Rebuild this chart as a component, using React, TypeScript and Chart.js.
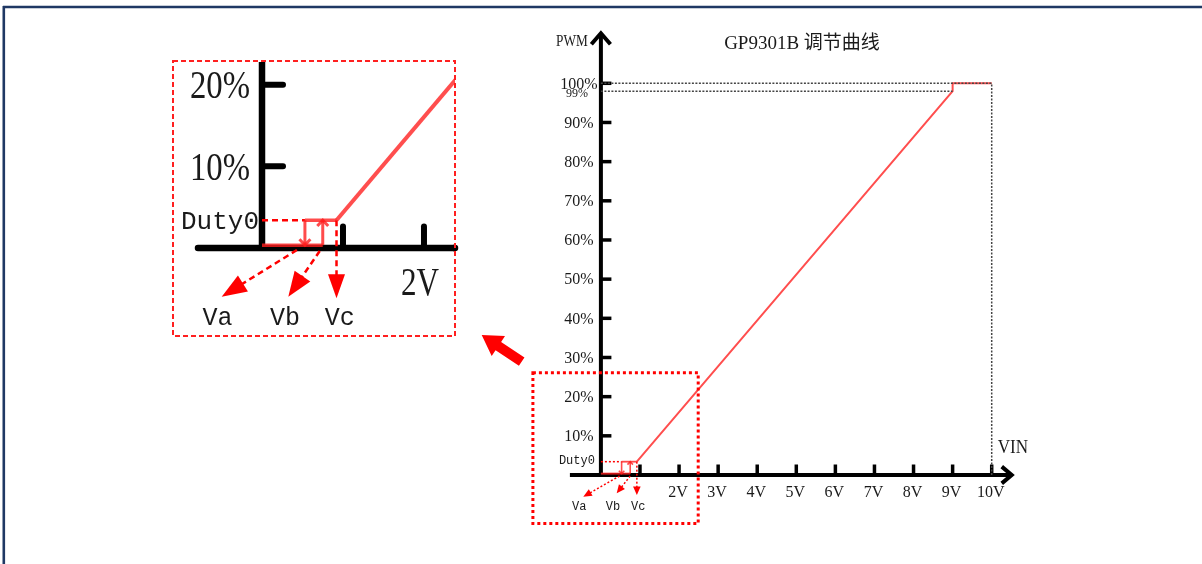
import React, { useEffect, useRef } from 'react';
import { Chart, registerables } from 'chart.js';

Chart.register(...registerables);

// ---------------- data ----------------
const curveVoltage = [0.92, 9.0, 9.0, 10.0];
const curvePWM = [3.4, 98, 100, 100];
const VA = 0.53;
const VB = 0.75;
const VC = 0.92;
const DUTY0 = 3.4;
const OFF_PWM = 0.35;
const offVoltage = [0, VB];
const offPWM = [OFF_PWM, OFF_PWM];
const onVoltage = [VA, VC];
const onPWM = [DUTY0, DUTY0];
const duty0GuideVoltage = [0, VA];
const duty0GuidePWM = [DUTY0, DUTY0];
const fullGuideVoltage = [0, 10, 10];
const fullGuidePWM = [100, 100, 0];
const maxGuideVoltage = [0, 9];
const maxGuidePWM = [98, 98];

const mainYTicks = [10, 20, 30, 40, 50, 60, 70, 80, 90, 100];
const mainYTickLabels = ['10%', '20%', '30%', '40%', '50%', '60%', '70%', '80%', '90%', '100%'];
const mainXTicks = [1, 2, 3, 4, 5, 6, 7, 8, 9, 10];
const mainXTickLabels = ['', '2V', '3V', '4V', '5V', '6V', '7V', '8V', '9V', '10V'];
const insetYTicks = [10, 20];
const insetYTickLabels = ['10%', '20%'];
const insetXTicks = [1, 2];
const insetXTickLabels = ['', '2V'];
const markerNames = ['Va', 'Vb', 'Vc'];
const duty0Label = 'Duty0';
const maxLabel = '99%';
const titleText = 'GP9301B 调节曲线';
const yAxisName = 'PWM';
const xAxisName = 'VIN';
// zoomed region of the main chart (voltage range, PWM range)
const zoomVoltage = [-1.74, 2.49];
const zoomPWM = [-12.4, 26.1];

// ---------------- helpers ----------------
type Pt = { x: number; y: number };
const zip = (xs: number[], ys: number[]): Pt[] => xs.map((x, i) => ({ x, y: ys[i] }));

const SERIF = '"Liberation Serif", "Noto Sans CJK SC", serif';
const MONO = '"Liberation Mono", monospace';
const CURVE_RED = 'rgb(255,78,78)';
const BOX_RED = 'rgba(255,30,30,0.8)';
const RED = '#ff0000';

function txt(ctx: CanvasRenderingContext2D, s: string, x: number, y: number, font: string,
  align: CanvasTextAlign = 'center', sx = 1, color = '#1a1a1a') {
  ctx.save();
  ctx.font = font;
  ctx.fillStyle = color;
  ctx.textAlign = align;
  ctx.textBaseline = 'middle';
  ctx.translate(x, y);
  ctx.scale(sx, 1);
  ctx.fillText(s, 0, 0);
  ctx.restore();
}

function head(ctx: CanvasRenderingContext2D, tx: number, ty: number, fx: number, fy: number,
  len: number, hw: number, color: string) {
  const a = Math.atan2(ty - fy, tx - fx);
  const bx = tx - len * Math.cos(a);
  const by = ty - len * Math.sin(a);
  const nx = -Math.sin(a);
  const ny = Math.cos(a);
  ctx.save();
  ctx.beginPath();
  ctx.moveTo(tx, ty);
  ctx.lineTo(bx + nx * hw, by + ny * hw);
  ctx.lineTo(bx - nx * hw, by - ny * hw);
  ctx.closePath();
  ctx.fillStyle = color;
  ctx.fill();
  ctx.restore();
}

function dashedArrow(ctx: CanvasRenderingContext2D, x0: number, y0: number, x1: number, y1: number,
  lw: number, dash: number[], len: number, hw: number, color: string) {
  const a = Math.atan2(y1 - y0, x1 - x0);
  const ex = x1 - len * 0.85 * Math.cos(a);
  const ey = y1 - len * 0.85 * Math.sin(a);
  ctx.save();
  ctx.strokeStyle = color;
  ctx.lineWidth = lw;
  ctx.setLineDash(dash);
  ctx.beginPath();
  ctx.moveTo(x0, y0);
  ctx.lineTo(ex, ey);
  ctx.stroke();
  ctx.restore();
  head(ctx, x1, y1, x0, y0, len, hw, color);
}

function chevron(ctx: CanvasRenderingContext2D, tx: number, ty: number, angle: number,
  arm: number, spread: number, lw: number, color: string) {
  const a1 = angle + Math.PI - spread;
  const a2 = angle + Math.PI + spread;
  ctx.save();
  ctx.strokeStyle = color;
  ctx.lineWidth = lw;
  ctx.lineJoin = 'miter';
  ctx.beginPath();
  ctx.moveTo(tx + arm * Math.cos(a1), ty + arm * Math.sin(a1));
  ctx.lineTo(tx, ty);
  ctx.lineTo(tx + arm * Math.cos(a2), ty + arm * Math.sin(a2));
  ctx.stroke();
  ctx.restore();
}

function line(ctx: CanvasRenderingContext2D, x0: number, y0: number, x1: number, y1: number,
  lw: number, color: string, cap: CanvasLineCap = 'butt', dash: number[] = []) {
  ctx.save();
  ctx.strokeStyle = color;
  ctx.lineWidth = lw;
  ctx.lineCap = cap;
  ctx.setLineDash(dash);
  ctx.beginPath();
  ctx.moveTo(x0, y0);
  ctx.lineTo(x1, y1);
  ctx.stroke();
  ctx.restore();
}

function verticalArrow(ctx: CanvasRenderingContext2D, x: number, yFrom: number, yTo: number,
  lw: number, arm: number, color: string) {
  line(ctx, x, yFrom, x, yTo, lw, color);
  chevron(ctx, x, yTo, yTo > yFrom ? Math.PI / 2 : -Math.PI / 2, arm, 0.75, lw, color);
}

// ---------------- plugins ----------------
const mainPlugin = {
  id: 'mainDecor',
  beforeDatasetsDraw(chart: any) {
    const ctx: CanvasRenderingContext2D = chart.ctx;
    const xs = chart.scales.x;
    const ys = chart.scales.y;
    const x0 = xs.getPixelForValue(0);
    const y0 = ys.getPixelForValue(0);
    // page border
    line(ctx, 3, 7, 1202, 7, 2.6, '#1f3864');
    line(ctx, 3.8, 6, 3.8, 564, 2.6, '#1f3864');
    // axes
    const xTip = xs.getPixelForValue(10) + 20;
    const yTip = ys.getPixelForValue(100) - 50;
    line(ctx, x0 - 31, y0, xTip - 2, y0, 4, '#000');
    line(ctx, x0, y0 + 2, x0, yTip + 2, 4, '#000');
    chevron(ctx, xTip, y0, 0, 13, 0.7, 4, '#000');
    chevron(ctx, x0, yTip, -Math.PI / 2, 14.5, 0.72, 4, '#000');
    // ticks + labels
    mainYTicks.forEach((v, i) => {
      const py = ys.getPixelForValue(v);
      line(ctx, x0, py, x0 + 10.5, py, 3.5, '#000');
      txt(ctx, mainYTickLabels[i], x0 - 22, py + 1, `16px ${SERIF}`);
    });
    mainXTicks.forEach((v, i) => {
      const px = xs.getPixelForValue(v);
      line(ctx, px, y0, px, y0 - 10.5, 3.5, '#000');
      if (mainXTickLabels[i]) txt(ctx, mainXTickLabels[i], px - 1, y0 + 18, `16px ${SERIF}`);
    });
    txt(ctx, maxLabel, x0 - 24, ys.getPixelForValue(maxGuidePWM[0]) + 2.6, `12px ${SERIF}`);
    txt(ctx, duty0Label, x0 - 24, ys.getPixelForValue(DUTY0) - 0.5, `12px ${MONO}`);
    // names
    txt(ctx, titleText, 802, 44, `19px ${SERIF}`);
    txt(ctx, yAxisName, x0 - 29, yTip + 8, `17px ${SERIF}`, 'center', 0.78);
    txt(ctx, xAxisName, xs.getPixelForValue(10) + 6, y0 - 26.5, `18px ${SERIF}`, 'left', 0.95);
  },
  afterDatasetsDraw(chart: any) {
    const ctx: CanvasRenderingContext2D = chart.ctx;
    const xs = chart.scales.x;
    const ys = chart.scales.y;
    const x0 = xs.getPixelForValue(0);
    const y0 = ys.getPixelForValue(0);
    const pa = xs.getPixelForValue(VA);
    const pb = xs.getPixelForValue(VB);
    const pc = xs.getPixelForValue(VC);
    const pd = ys.getPixelForValue(DUTY0);
    const po = ys.getPixelForValue(OFF_PWM);
    verticalArrow(ctx, pa, pd, po, 1.6, 4, BOX_RED);
    verticalArrow(ctx, pb, po, pd, 1.6, 4, BOX_RED);
    // callout arrows
    dashedArrow(ctx, pa - 2, y0 + 1, x0 - 17.6, y0 + 21.7, 1.5, [2, 2], 8.5, 3.8, RED);
    dashedArrow(ctx, pb, y0 + 1, x0 + 15.8, y0 + 18.3, 1.5, [2, 2], 8.5, 3.8, RED);
    dashedArrow(ctx, pc, pd, pc, y0 + 20, 1.5, [2, 2], 8.5, 3.8, RED);
    const lblX = [x0 - 21.7, x0 + 12.1, x0 + 37.4];
    markerNames.forEach((n, i) => txt(ctx, n, lblX[i], y0 + 32, `12px ${MONO}`));
    // zoom frame
    const fx0 = xs.getPixelForValue(zoomVoltage[0]);
    const fx1 = xs.getPixelForValue(zoomVoltage[1]);
    const fy0 = ys.getPixelForValue(zoomPWM[1]);
    const fy1 = ys.getPixelForValue(zoomPWM[0]);
    ctx.save();
    ctx.strokeStyle = RED;
    ctx.lineWidth = 3;
    ctx.setLineDash([3, 3]);
    ctx.strokeRect(fx0, fy0, fx1 - fx0, fy1 - fy0);
    ctx.restore();
    // big arrow pointing to the inset
    const tip = { x: 481.7, y: 335 };
    const tail = { x: 521.7, y: 361.7 };
    const a = Math.atan2(tip.y - tail.y, tip.x - tail.x);
    const ux = Math.cos(a), uy = Math.sin(a);
    const nx = -uy, ny = ux;
    const hl = 20, hw = 12, sw = 5;
    const bx = tip.x - ux * hl, by = tip.y - uy * hl;
    ctx.save();
    ctx.fillStyle = RED;
    ctx.beginPath();
    ctx.moveTo(tip.x, tip.y);
    ctx.lineTo(bx + nx * hw, by + ny * hw);
    ctx.lineTo(bx + nx * sw, by + ny * sw);
    ctx.lineTo(tail.x + nx * sw, tail.y + ny * sw);
    ctx.lineTo(tail.x - nx * sw, tail.y - ny * sw);
    ctx.lineTo(bx - nx * sw, by - ny * sw);
    ctx.lineTo(bx - nx * hw, by - ny * hw);
    ctx.closePath();
    ctx.fill();
    ctx.restore();
  },
};

const insetPlugin = {
  id: 'insetDecor',
  beforeDatasetsDraw(chart: any) {
    const ctx: CanvasRenderingContext2D = chart.ctx;
    const xs = chart.scales.x;
    const ys = chart.scales.y;
    const x0 = xs.getPixelForValue(0);
    const y0 = ys.getPixelForValue(0);
    const area = chart.chartArea;
    line(ctx, x0, area.top, x0, y0, 6.5, '#000');
    line(ctx, x0 - 64, y0, area.right, y0, 6.5, '#000', 'round');
    line(ctx, area.right - 2, y0, area.right, y0, 6.5, '#000');
    insetYTicks.forEach((v, i) => {
      const py = ys.getPixelForValue(v);
      line(ctx, x0, py, x0 + 21, py, 6, '#000', 'round');
      txt(ctx, insetYTickLabels[i], x0 - 12, py + 2.5, `41px ${SERIF}`, 'right', 0.8);
    });
    insetXTicks.forEach((v, i) => {
      const px = xs.getPixelForValue(v);
      line(ctx, px, y0, px, y0 - 21.5, 6, '#000', 'round');
      if (insetXTickLabels[i]) txt(ctx, insetXTickLabels[i], px - 4, y0 + 36, `41px ${SERIF}`, 'center', 0.76);
    });
    txt(ctx, duty0Label, x0 - 3, ys.getPixelForValue(DUTY0) + 1.5, `26px ${MONO}`, 'right');
  },
  afterDatasetsDraw(chart: any) {
    const ctx: CanvasRenderingContext2D = chart.ctx;
    const xs = chart.scales.x;
    const ys = chart.scales.y;
    const x0 = xs.getPixelForValue(0);
    const y0 = ys.getPixelForValue(0);
    const area = chart.chartArea;
    const pa = xs.getPixelForValue(VA);
    const pb = xs.getPixelForValue(VB);
    const pc = xs.getPixelForValue(VC);
    const pd = ys.getPixelForValue(DUTY0);
    const po = ys.getPixelForValue(OFF_PWM);
    verticalArrow(ctx, pa, pd, po, 3, 8, BOX_RED);
    verticalArrow(ctx, pb, po, pd, 3, 8, BOX_RED);
    dashedArrow(ctx, pa - 8, y0 + 2, x0 - 40.3, y0 + 48.7, 2.5, [6, 4], 25, 9.5, RED);
    dashedArrow(ctx, pb - 3, y0 + 3, x0 + 26.3, y0 + 48.7, 2.5, [6, 4], 25, 9.5, RED);
    dashedArrow(ctx, pc, pd, pc, y0 + 50.3, 2.5, [6, 4], 24, 8.5, RED);
    const lblX = [x0 - 44.5, x0 + 23, x0 + 77.7];
    markerNames.forEach((n, i) => txt(ctx, n, lblX[i], y0 + 70.3, `25px ${MONO}`));
    ctx.save();
    ctx.strokeStyle = '#ff2020';
    ctx.lineWidth = 2;
    ctx.setLineDash([5, 3]);
    ctx.strokeRect(x0 - 89, area.top - 1, area.right - (x0 - 89), y0 + 88 - (area.top - 1));
    ctx.restore();
  },
};

// ---------------- configs ----------------
function mainConfig(): any {
  return {
    type: 'line',
    data: {
      datasets: [
        { data: zip(fullGuideVoltage, fullGuidePWM), borderColor: '#444', borderWidth: 1.5, borderDash: [2, 1.5] },
        { data: zip(maxGuideVoltage, maxGuidePWM), borderColor: '#444', borderWidth: 1.5, borderDash: [2, 1.5] },
        { data: zip(duty0GuideVoltage, duty0GuidePWM), borderColor: RED, borderWidth: 1.5, borderDash: [2, 2] },
        { data: zip(onVoltage, onPWM), borderColor: BOX_RED, borderWidth: 1.8 },
        { data: zip(offVoltage, offPWM), borderColor: BOX_RED, borderWidth: 2 },
        { data: zip(curveVoltage, curvePWM), borderColor: CURVE_RED, borderWidth: 2 },
      ],
    },
    options: {
      responsive: false,
      animation: false,
      devicePixelRatio: 1,
      layout: { padding: { left: 600.9, right: 210.3, top: 83.3, bottom: 89 } },
      plugins: { legend: { display: false }, tooltip: { enabled: false }, title: { display: false } },
      scales: {
        x: { type: 'linear', min: 0, max: 10, display: false },
        y: { type: 'linear', min: 0, max: 100, display: false },
      },
      elements: { point: { radius: 0 }, line: { tension: 0, fill: false } },
      datasets: { line: { clip: false } },
    },
    plugins: [mainPlugin],
  };
}

function insetConfig(): any {
  return {
    type: 'line',
    data: {
      datasets: [
        { data: zip(duty0GuideVoltage, duty0GuidePWM), borderColor: RED, borderWidth: 2.5, borderDash: [6, 4] },
        { data: zip(onVoltage, onPWM), borderColor: BOX_RED, borderWidth: 3.5 },
        { data: zip(offVoltage, offPWM), borderColor: BOX_RED, borderWidth: 3.5 },
        { data: zip(curveVoltage, curvePWM), borderColor: CURVE_RED, borderWidth: 4, clip: 0 },
      ],
    },
    options: {
      responsive: false,
      animation: false,
      devicePixelRatio: 1,
      layout: { padding: { left: 102, right: 15, top: 12, bottom: 102 } },
      plugins: { legend: { display: false }, tooltip: { enabled: false }, title: { display: false } },
      scales: {
        x: { type: 'linear', min: 0, max: 2.383, display: false },
        y: { type: 'linear', min: 0, max: 22.77, display: false },
      },
      elements: { point: { radius: 0 }, line: { tension: 0, fill: false } },
    },
    plugins: [insetPlugin],
  };
}

export default function App() {
  const mainRef = useRef<HTMLCanvasElement>(null);
  const insetRef = useRef<HTMLCanvasElement>(null);
  useEffect(() => {
    const c1 = new Chart(mainRef.current!, mainConfig());
    const c2 = new Chart(insetRef.current!, insetConfig());
    return () => {
      c1.destroy();
      c2.destroy();
    };
  }, []);
  return (
    <div style={{ position: 'fixed', left: 0, top: 0, width: 1202, height: 564, background: '#fff', overflow: 'hidden' }}>
      <canvas ref={mainRef} width={1202} height={564} style={{ position: 'absolute', left: 0, top: 0, width: 1202, height: 564 }} />
      <canvas ref={insetRef} width={310} height={300} style={{ position: 'absolute', left: 160, top: 50, width: 310, height: 300 }} />
    </div>
  );
}
